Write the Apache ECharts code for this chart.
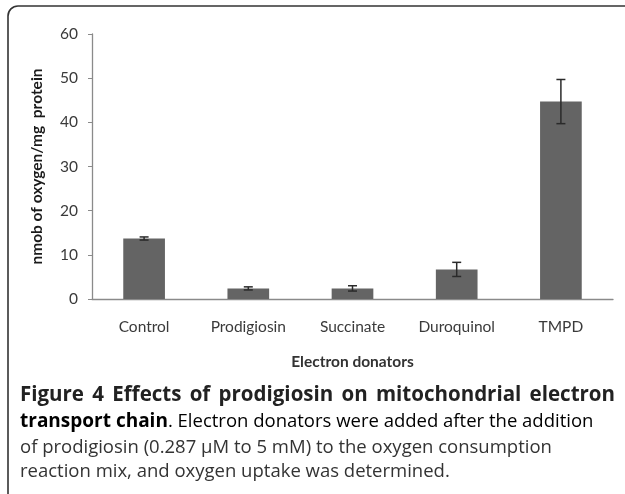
<!DOCTYPE html>
<html><head><meta charset="utf-8">
<script src="https://cdn.jsdelivr.net/npm/echarts@6/dist/echarts.min.js"></script>
<style>html,body{margin:0;padding:0;background:#fff}#c{width:625px;height:494px}</style>
</head><body><div id="c"></div>
<script>
const categories = ['Control','Prodigiosin','Succinate','Duroquinol','TMPD'];
const values = [13.7, 2.4, 2.4, 6.7, 44.7];
const errors = [0.35, 0.35, 0.6, 1.6, 5.0];
const yTicks = [0,10,20,30,40,50,60];
const yTitle = 'nmob of oxygen/mg  protein';
const xTitle = 'Electron donators';
const captionBold1 = 'Figure 4 Effects of prodigiosin on mitochondrial electron';
const captionBold2 = 'transport chain';
const captionRest2 = '. Electron donators were added after the addition';
const captionLine3 = 'of prodigiosin (0.287 \u00b5M to 5 mM) to the oxygen consumption';
const captionLine4 = 'reaction mix, and oxygen uptake was determined.';

const chart = echarts.init(document.getElementById('c'), null, {renderer:'canvas'});
const errData = categories.map((c,i)=>[i, values[i]-errors[i], values[i]+errors[i]]);
const capFam = '"Open Sans", sans-serif';
const boldFont = 'bold 20.5px ' + capFam;
const regFont = '18.5px ' + capFam;

// justify the first caption line across the frame width
const ctx = document.createElement('canvas').getContext('2d');
ctx.font = boldFont;
const words = captionBold1.split(' ');
const widths = words.map(w=>ctx.measureText(w).width);
const x0 = 20, x1 = 615;
const gap = (x1 - x0 - widths.reduce((a,b)=>a+b,0)) / (words.length - 1);
const line1 = [];
let cx = x0;
words.forEach((w,i)=>{
  line1.push({type:'text',x:cx,y:385,style:{text:w,font:boldFont,fill:'#222'}});
  cx += widths[i] + gap;
});

chart.setOption({
  animation:false,
  backgroundColor:'#fff',
  grid:{left:92,right:12,top:34,bottom:195,containLabel:false},
  xAxis:{type:'category',data:categories,
    axisLine:{lineStyle:{color:'#8a8a8a',width:1.3}},
    axisTick:{show:false},
    axisLabel:{color:'#3a3a3a',fontFamily:'Lato',fontSize:15.5,margin:20},
    name:xTitle,nameLocation:'middle',nameGap:55,
    nameTextStyle:{color:'#333',fontFamily:'Lato',fontWeight:'bold',fontSize:15.5}},
  yAxis:{type:'value',min:0,max:60,interval:10,
    axisLine:{show:true,lineStyle:{color:'#8a8a8a',width:1.3}},
    axisTick:{show:true,length:4,lineStyle:{color:'#8a8a8a'}},
    splitLine:{show:false},
    axisLabel:{color:'#3a3a3a',fontFamily:'Lato',fontSize:15.5,margin:14,
      formatter:v=>yTicks.includes(v)?String(v):''},
    name:yTitle,nameLocation:'middle',nameGap:47,
    nameTextStyle:{color:'#1a1a1a',fontFamily:'Lato',fontWeight:'bold',fontSize:15.5}},
  series:[
    {type:'bar',data:values,barWidth:'40%',itemStyle:{color:'#646464'},z:2},
    {type:'custom',data:errData,z:5,
      renderItem:function(params,api){
        const x=api.value(0);
        const lo=api.coord([x,api.value(1)]);
        const hi=api.coord([x,api.value(2)]);
        const w=4.5;
        const st={stroke:'#2a2a2a',lineWidth:1.5};
        return {type:'group',children:[
          {type:'line',shape:{x1:lo[0],y1:lo[1],x2:hi[0],y2:hi[1]},style:st},
          {type:'line',shape:{x1:lo[0]-w,y1:lo[1],x2:lo[0]+w,y2:lo[1]},style:st},
          {type:'line',shape:{x1:hi[0]-w,y1:hi[1],x2:hi[0]+w,y2:hi[1]},style:st}
        ]};
      }}
  ],
  graphic:[
    {type:'rect',shape:{x:8,y:6,width:700,height:600,r:10},
      style:{fill:'none',stroke:'#333',lineWidth:1.6},silent:true},
    ...line1,
    {type:'text',x:20,y:412,style:{
      text:'{b|'+captionBold2+'}{r|'+captionRest2+'}',
      rich:{b:{fontFamily:'Open Sans',fontWeight:'bold',fontSize:19,color:'#222'},
            r:{fontFamily:'Open Sans',fontSize:18.5,color:'#333'}}}},
    {type:'text',x:20,y:438,style:{text:captionLine3,font:regFont,fill:'#333'}},
    {type:'text',x:20,y:462,style:{text:captionLine4,font:regFont,fill:'#333'}}
  ]
});
</script></body></html>
